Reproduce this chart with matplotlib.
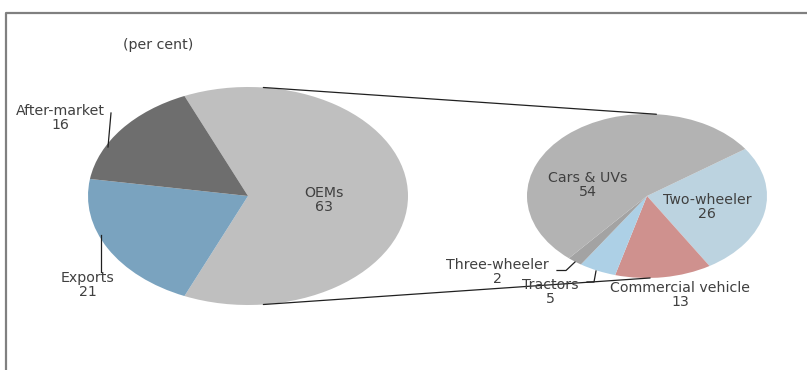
import matplotlib
matplotlib.use("Agg")
import matplotlib.pyplot as plt
from matplotlib.patches import ConnectionPatch
import numpy as np

# ---- data ----
main_labels = ["OEMs", "Exports", "After-market"]
main_values = [63, 21, 16]
sub_labels = ["Two-wheeler", "Commercial vehicle", "Tractors", "Three-wheeler", "Cars & UVs"]
sub_values = [26, 13, 5, 2, 54]
unit_note = "(per cent)"

main_colors = ["#bfbfbf", "#7aa3bf", "#6e6e6e"]
sub_colors = ["#bcd3e0", "#cf918e", "#add0e6", "#a3a3a3", "#b3b3b3"]

W, H = 807, 370
fig = plt.figure(figsize=(W / 100, H / 100), dpi=100)
plt.rcParams['font.family'] = ['DejaVu Sans']
TXT = "#404040"
FS = 10.2

# overlay axes in pixel coordinates
ov = fig.add_axes([0, 0, 1, 1])
ov.set_xlim(0, W)
ov.set_ylim(H, 0)
ov.axis("off")
ov.set_zorder(3)
ov.patch.set_alpha(0)

def pie_axes(cx, cy, rx, ry):
    return fig.add_axes([(cx - rx) / W, (H - cy - ry) / H, 2 * rx / W, 2 * ry / H])

# main pie
ax1 = pie_axes(248, 196, 160, 109)
start1 = 180.0 * main_values[0] / sum(main_values)
ax1.pie(main_values, colors=main_colors, startangle=start1, counterclock=False,
        radius=1, wedgeprops=dict(linewidth=0))
ax1.set_aspect("auto")
ax1.set_xlim(-1, 1)
ax1.set_ylim(-1, 1)
ax1.axis("off")

# sub pie
ax2 = pie_axes(647, 196, 120, 82)
ax2.pie(sub_values, colors=sub_colors, startangle=35, counterclock=False,
        radius=1, wedgeprops=dict(linewidth=0))
ax2.set_aspect("auto")
ax2.set_xlim(-1, 1)
ax2.set_ylim(-1, 1)
ax2.axis("off")

# connector lines
def pt(a):
    r = np.deg2rad(a)
    return (np.cos(r), np.sin(r))

for a1, a2 in [(84.5, 85.5), (-84.5, -88.5)]:
    cp = ConnectionPatch(xyA=pt(a1), coordsA=ax1.transData,
                         xyB=pt(a2), coordsB=ax2.transData,
                         color="#202020", lw=0.9)
    fig.add_artist(cp)

# frame
ov.plot([6, 6, W], [H, 13, 13], color="#808080", lw=1.6, solid_capstyle="butt")

# texts
ov.text(158, 45, unit_note, ha="center", va="center", fontsize=FS, color=TXT)

def lab(name, val, x, y):
    ov.text(x, y - 7, name, ha="center", va="center", fontsize=FS, color=TXT)
    ov.text(x, y + 7, str(val), ha="center", va="center", fontsize=FS, color=TXT)

mv = dict(zip(main_labels, main_values))
sv = dict(zip(sub_labels, sub_values))
lab("After-market", mv["After-market"], 60, 118)
lab("Exports", mv["Exports"], 88, 285)
lab("OEMs", mv["OEMs"], 324, 200)
lab("Cars & UVs", sv["Cars & UVs"], 588, 185)
lab("Two-wheeler", sv["Two-wheeler"], 707, 207)
lab("Commercial vehicle", sv["Commercial vehicle"], 680, 295)
lab("Tractors", sv["Tractors"], 550, 292)
lab("Three-wheeler", sv["Three-wheeler"], 497, 272)

# leader lines
LC = "#202020"
ov.plot([111, 108], [113, 147], color=LC, lw=0.9)
ov.plot([101, 101], [235, 272], color=LC, lw=0.9)
ov.plot([557, 566, 575], [270.5, 270.5, 262], color=LC, lw=0.9)
ov.plot([587, 594, 596], [282, 282, 271], color=LC, lw=0.9)

fig.savefig("out.png", dpi=100)
